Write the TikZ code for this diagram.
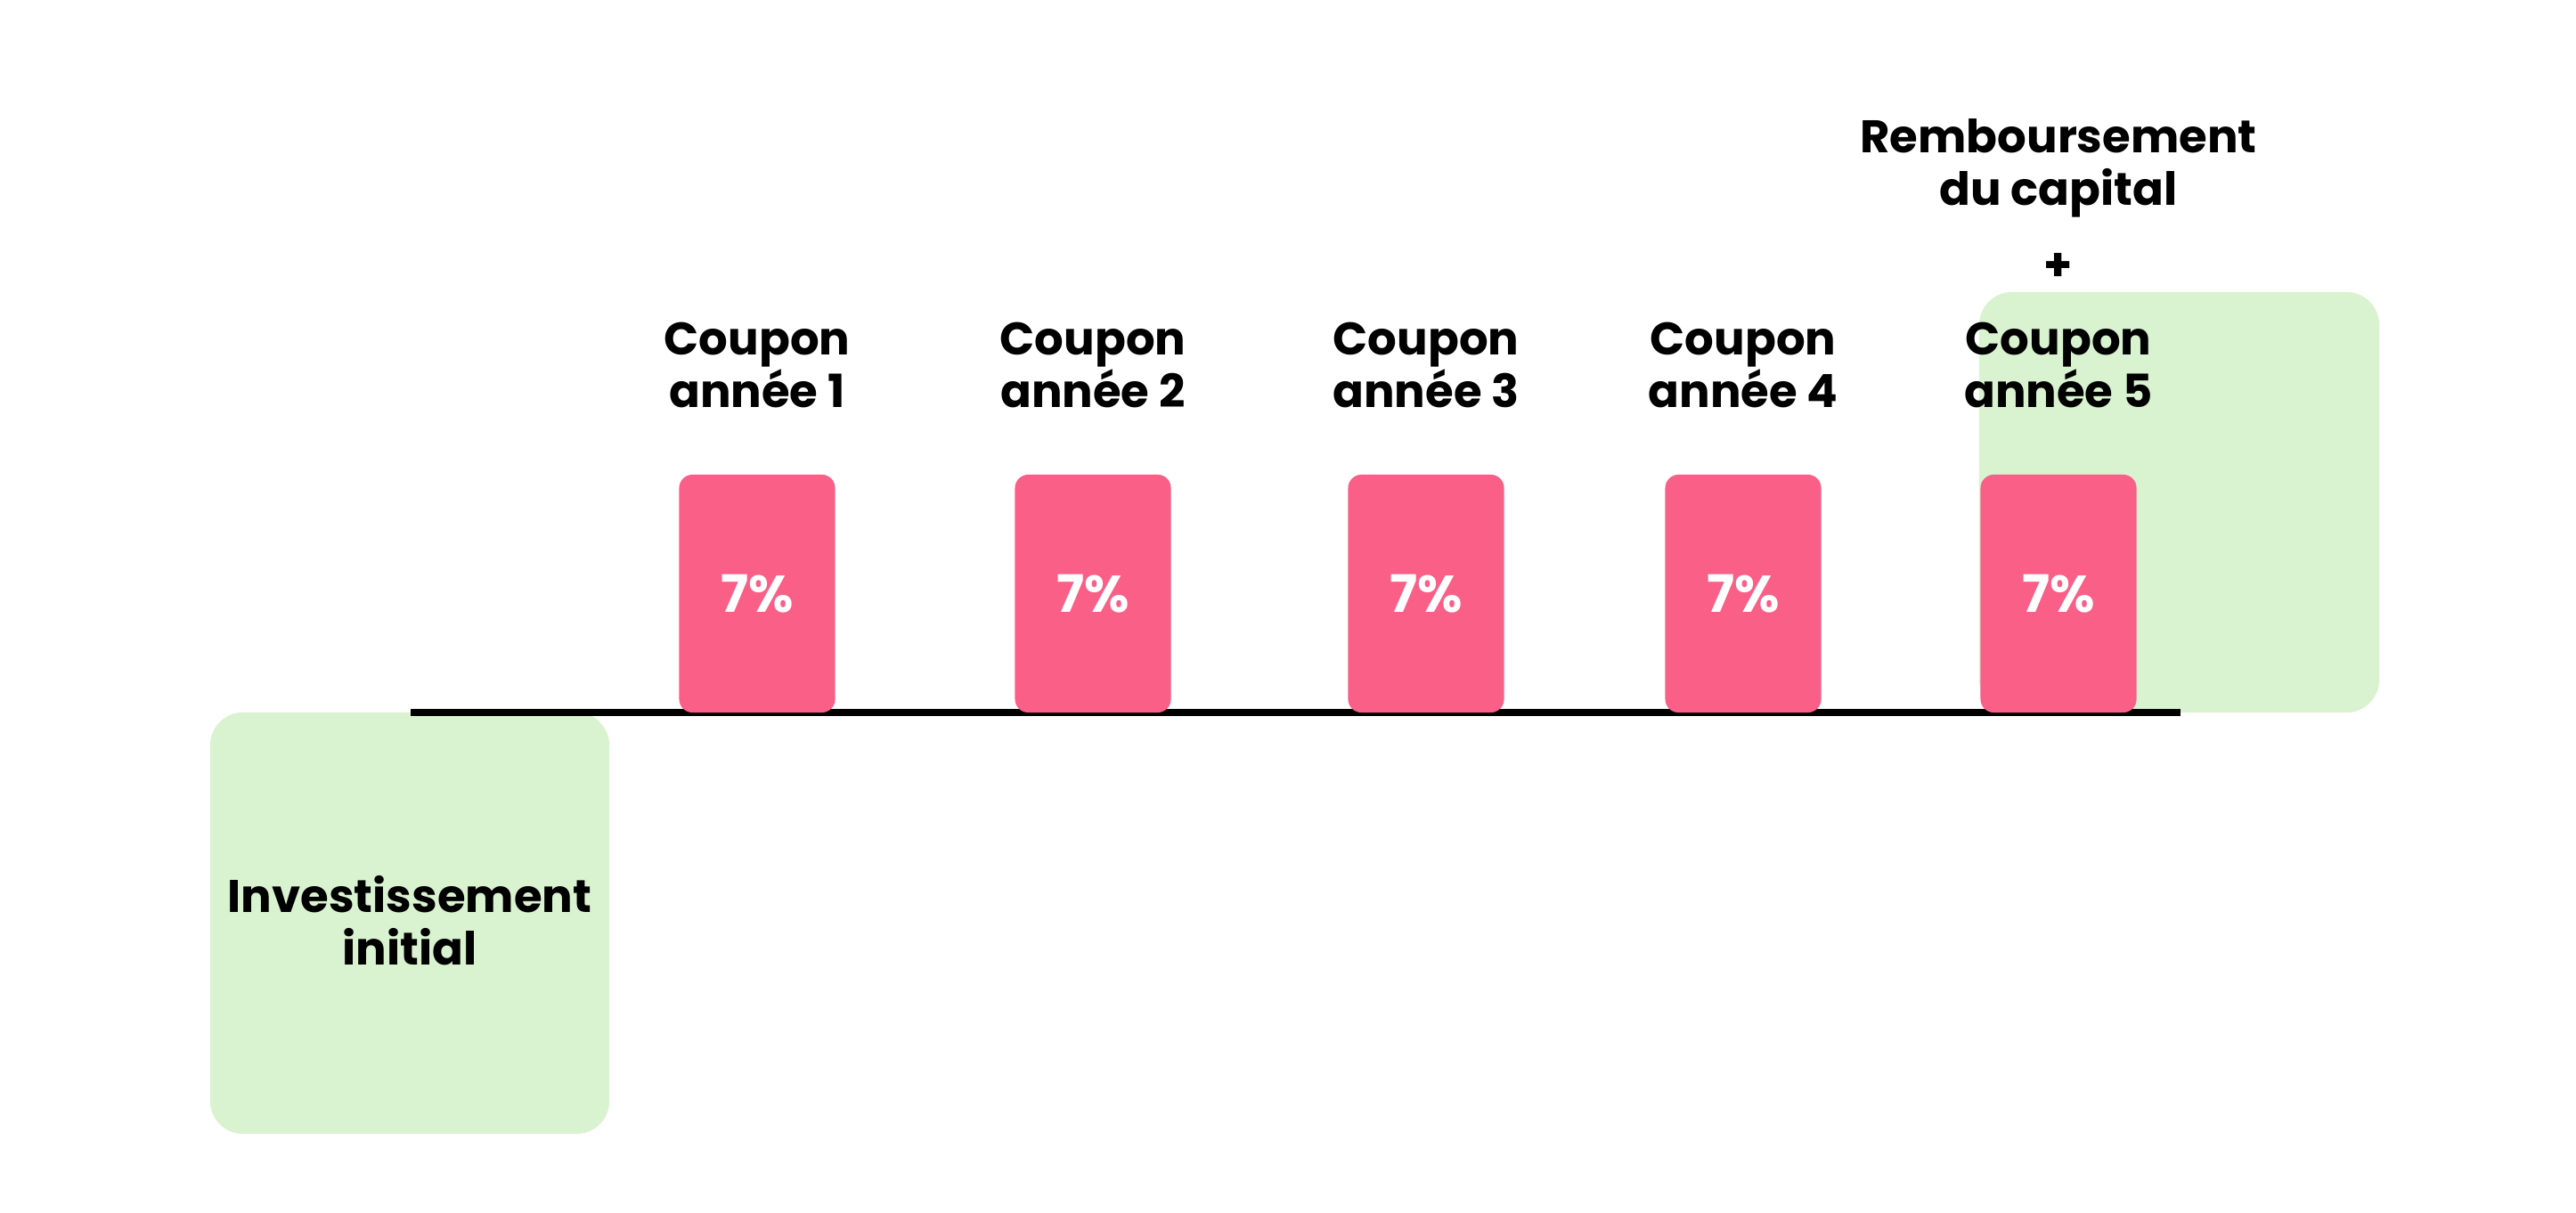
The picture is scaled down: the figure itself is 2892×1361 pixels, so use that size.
\documentclass[tikz,border=0pt]{standalone}
\usepackage{fontspec}
\setmainfont{Poppins}[BoldFont={Poppins Bold}]
\definecolor{pinkbar}{RGB}{249,95,135}
\definecolor{greenbox}{RGB}{217,242,208}
\newcommand\mylblfont{\bfseries\fontsize{14.6}{16.8}\selectfont\lineskiplimit -20pt\relax}
\begin{document}
\begin{tikzpicture}[x=0.01cm,y=-0.01cm,
  greenbox/.style={fill=greenbox,draw=none,rounded corners=0.37cm,inner sep=0pt},
  pinkbar/.style={fill=pinkbar,draw=none,rounded corners=0.15cm,inner sep=0pt,minimum width=1.75cm,minimum height=2.67cm,text=white,font=\bfseries\fontsize{16.5}{18}\selectfont},
  lbl/.style={align=center,inner sep=0pt,font=\mylblfont}]
\useasboundingbox (0,0) rectangle (2892,1361);
% green boxes
\node[greenbox,minimum width=4.48cm,minimum height=4.73cm] (init) at (460,1036.5) {};
\node[greenbox,minimum width=4.49cm,minimum height=4.72cm] (remb) at (2446.5,564) {};
% axis
\coordinate (axL) at (461,800);
\coordinate (axR) at (2448,800);
\draw[line width=2pt,black] (axL) -- (axR);
% pink bars
\foreach \i/\x in {1/850,2/1227,3/1601,4/1957,5/2311}{
  \node[pinkbar] (bar\i) at (\x,666.5) {7\%};
  \node[lbl] (cp\i) at (\x,410) {Coupon\\année \i};
}
\node[lbl] (rtext) at (2311,189) {Remboursement\\du capital};
\node[lbl] (plus) at (2311,300) {+};
\node[lbl] (itext) at (460,1034) {Investissement\\initial};
\end{tikzpicture}
\end{document}
